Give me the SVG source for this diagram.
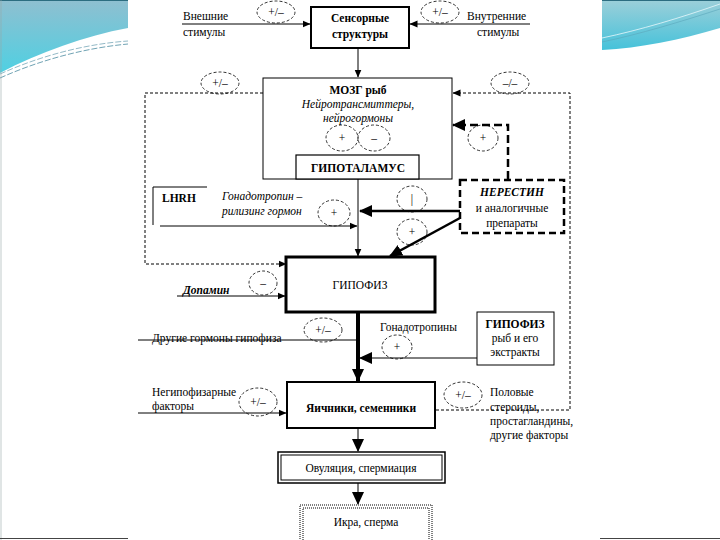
<svg xmlns="http://www.w3.org/2000/svg" width="720" height="540" viewBox="0 0 720 540" font-family="'Liberation Serif', 'DejaVu Serif', serif">
<defs>
<linearGradient id="gl" x1="0" y1="0" x2="0" y2="1"><stop offset="0" stop-color="#8fbfd0"/><stop offset="1" stop-color="#4fd0e2"/></linearGradient>
<linearGradient id="gr" x1="0" y1="0" x2="0" y2="1"><stop offset="0" stop-color="#9ccfd9"/><stop offset="1" stop-color="#45c2da"/></linearGradient>
<marker id="ah" markerWidth="8" markerHeight="8" refX="7.5" refY="4" orient="auto" markerUnits="userSpaceOnUse"><path d="M0,0.5 L8,4 L0,7.5 z" fill="#000"/></marker>
<marker id="ahb" markerWidth="13" markerHeight="13" refX="12" refY="6.5" orient="auto" markerUnits="userSpaceOnUse"><path d="M0,0.5 L13,6.5 L0,12.5 z" fill="#000"/></marker>
</defs>
<style>
text{font-family:'Liberation Serif','DejaVu Serif',serif;font-size:11.5px;fill:#000}
.c{text-anchor:middle}
.b{font-weight:bold}
.i{font-style:italic}
.el{fill:none;stroke:#000;stroke-width:0.8;stroke-dasharray:3 2}
.ln{stroke:#000;stroke-width:1;fill:none}
.dl{stroke:#000;stroke-width:1;stroke-dasharray:3 2;fill:none}
.bx{fill:#fff;stroke:#000}
</style>
<rect width="720" height="540" fill="#fff"/>
<g id="decor">
<path d="M0,0 H128 V28 C85,36 40,52 0,73 Z" fill="url(#gl)"/>
<path d="M0,78 C40,60 85,48 128,44" fill="none" stroke="#4a8aa0" stroke-width="0.8" stroke-dasharray="6 2"/>
<path d="M0,74 C40,56 85,44 128,41" fill="none" stroke="#4a8aa0" stroke-width="0.6" stroke-dasharray="6 2"/>
<path d="M602,0 H720 V28 C680,40 640,48 602,50 Z" fill="url(#gr)"/>
<path d="M602,38 C640,30 680,18 720,4" fill="none" stroke="#e8f8fb" stroke-width="0.8"/>
<path d="M602,42 C640,34 680,22 720,9" fill="none" stroke="#5aa6bb" stroke-width="0.6"/>
<line x1="0" y1="0.5" x2="128" y2="0.5" stroke="#2c6d80"/>
<line x1="602" y1="0.5" x2="720" y2="0.5" stroke="#2c6d80"/>
<line x1="1" y1="0" x2="1" y2="540" stroke="#9aa" stroke-width="0.6"/>
<line x1="0" y1="538.5" x2="128" y2="538.5" stroke="#444"/>
<line x1="600" y1="538.5" x2="720" y2="538.5" stroke="#444"/>
</g>
<g id="connectors">
<path class="ln" d="M182,24 H310" marker-end="url(#ah)"/>
<path class="ln" d="M530,24 H410" marker-end="url(#ah)"/>
<path class="ln" d="M358,48 V77" marker-end="url(#ah)"/>
<path class="ln" d="M358,128 V154" marker-end="url(#ah)"/>
<path class="dl" d="M263,93 H145 V264 H286" marker-end="url(#ah)"/>
<path class="dl" d="M436,410 H570 V93 H453" marker-end="url(#ah)"/>
<path d="M508,179 V125 H453" fill="none" stroke="#000" stroke-width="2.5" stroke-dasharray="8 4" marker-end="url(#ahb)"/>
<path class="ln" d="M358,179 V256" stroke-width="1.5" marker-end="url(#ah)"/>
<path d="M460,211 H360" stroke="#000" stroke-width="2.5" marker-end="url(#ahb)"/>
<path d="M460,218 L390,256" stroke="#000" stroke-width="2.5" marker-end="url(#ahb)"/>
<path class="ln" d="M207,187 H153 V225"/>
<path class="ln" d="M160,226 H357" marker-end="url(#ah)"/>
<path class="ln" d="M177,296 H285" marker-end="url(#ah)"/>
<path d="M358,313 V381" stroke="#000" stroke-width="4" marker-end="url(#ahb)"/>
<path class="ln" d="M138,340 H357"/>
<path class="ln" d="M477,358 H360" marker-end="url(#ahb)"/>
<path class="ln" d="M138,413 H286" marker-end="url(#ah)"/>
<path class="ln" d="M358,428 V451" stroke-width="1.5" marker-end="url(#ahb)"/>
<path class="ln" d="M358,483 V504" stroke-width="1.5" marker-end="url(#ahb)"/>
</g>
<g id="ext-stimuli"><text x="183" y="20">Внешние</text><text x="183" y="36">стимулы</text></g>
<g id="int-stimuli"><text x="467" y="20">Внутренние</text><text x="477" y="36">стимулы</text></g>
<g id="sensory"><rect class="bx" x="311" y="7" width="98" height="41" stroke-width="2"/><text class="c b" x="360" y="22">Сенсорные</text><text class="c b" x="360" y="38">структуры</text></g>
<g id="brain"><rect class="bx" x="263" y="78" width="189" height="101" stroke-width="1"/><text class="c b" x="358" y="94" font-size="12.5">МОЗГ рыб</text><text class="c i" x="358" y="108">Нейротрансмиттеры,</text><text class="c i" x="358" y="122">нейрогормоны</text></g>
<g id="hypothalamus"><rect class="bx" x="296" y="155" width="123" height="24" stroke-width="1.2"/><text class="c b" x="358" y="172" font-size="12">ГИПОТАЛАМУС</text></g>
<g id="nerestin"><rect class="bx" x="460" y="180" width="104" height="53" stroke-width="2.5" stroke-dasharray="7 4"/><text class="c b i" x="512" y="196" font-size="14">НЕРЕСТИН</text><text class="c" x="512" y="212">и аналогичные</text><text class="c" x="512" y="227">препараты</text></g>
<g id="lhrh"><text class="b" x="162" y="202">LHRH</text><text class="i" x="222" y="200">Гонадотропин –</text><text class="i" x="222" y="215">рилизинг гормон</text></g>
<g id="pituitary"><rect class="bx" x="286" y="257" width="149" height="55" stroke-width="3"/><text class="c" x="360" y="289" font-size="12.5">ГИПОФИЗ</text></g>
<g id="dopamine"><text class="b i" x="183" y="294">Допамин</text></g>
<g id="other-hormones"><text x="152" y="342">Другие гормоны гипофиза</text></g>
<g id="gonadotropins"><text x="380" y="331">Гонадотропины</text></g>
<g id="fish-pituitary"><rect class="bx" x="477" y="312" width="77" height="53" stroke-width="1"/><text class="c b" x="515" y="328">ГИПОФИЗ</text><text class="c" x="515" y="342">рыб и его</text><text class="c" x="515" y="356">экстракты</text></g>
<g id="nonpit"><text x="152" y="396">Негипофизарные</text><text x="152" y="410">факторы</text></g>
<g id="gonads"><rect class="bx" x="287" y="382" width="148" height="46" stroke-width="2"/><text class="c b" x="361" y="412">Яичники, семенники</text></g>
<g id="steroids"><text x="490" y="396">Половые</text><text x="490" y="411">стероиды,</text><text x="490" y="425">простагландины,</text><text x="490" y="439">другие факторы</text></g>
<g id="ovulation"><rect class="bx" x="278" y="452" width="167" height="31" stroke-width="1.5"/><rect x="281" y="455" width="161" height="25" fill="none" stroke="#000" stroke-width="1"/><text class="c" x="361" y="472">Овуляция, спермиация</text></g>
<g id="roe"><rect class="bx" x="300" y="505" width="132" height="40" stroke-width="1" stroke-dasharray="1 1"/><rect x="303" y="508" width="126" height="34" fill="none" stroke="#000" stroke-width="1" stroke-dasharray="1 1"/><text class="c" x="366" y="526">Икра, сперма</text></g>
<g id="signs">
<ellipse class="el" cx="276" cy="12" rx="19" ry="11"/><text class="c" x="276" y="16">+/–</text>
<ellipse class="el" cx="440" cy="12" rx="19" ry="11"/><text class="c" x="440" y="16">+/–</text>
<ellipse class="el" cx="220" cy="83" rx="19" ry="11"/><text class="c" x="220" y="87">+/–</text>
<ellipse class="el" cx="510" cy="83" rx="19" ry="11"/><text class="c" x="510" y="87">–/–</text>
<ellipse class="el" cx="342" cy="138" rx="16" ry="13"/><text class="c" x="342" y="142">+</text>
<ellipse class="el" cx="374" cy="138" rx="16" ry="13"/><text class="c" x="374" y="142">–</text>
<ellipse class="el" cx="483" cy="138" rx="15" ry="13"/><text class="c" x="483" y="142">+</text>
<ellipse class="el" cx="412" cy="199" rx="15" ry="13"/><text class="c" x="412" y="203">|</text>
<ellipse class="el" cx="412" cy="232" rx="15" ry="13"/><text class="c" x="412" y="236">+</text>
<ellipse class="el" cx="334" cy="213" rx="16" ry="13"/><text class="c" x="334" y="217">+</text>
<ellipse class="el" cx="263" cy="283" rx="14" ry="12"/><text class="c" x="263" y="287">–</text>
<ellipse class="el" cx="323" cy="330" rx="19" ry="12"/><text class="c" x="323" y="334">+/–</text>
<ellipse class="el" cx="397" cy="347" rx="15" ry="12"/><text class="c" x="397" y="351">+</text>
<ellipse class="el" cx="258" cy="402" rx="19" ry="14"/><text class="c" x="258" y="406">+/–</text>
<ellipse class="el" cx="463" cy="395" rx="19" ry="13"/><text class="c" x="463" y="399">+/–</text>
</g>
</svg>
